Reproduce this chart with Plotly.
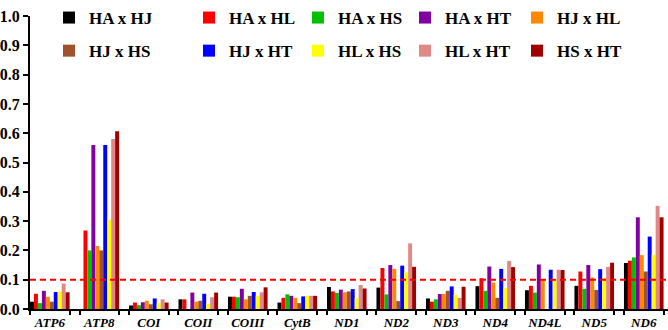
import plotly.graph_objects as go

genes = ["ATP6", "ATP8", "COI", "COII", "COIII", "CytB", "ND1", "ND2", "ND3", "ND4", "ND4L", "ND5", "ND6"]

series_names = ["HA x HJ", "HA x HL", "HA x HS", "HA x HT", "HJ x HL",
                "HJ x HS", "HJ x HT", "HL x HS", "HL x HT", "HS x HT"]

ha_hj = [0.025, 0.0, 0.012, 0.033, 0.042, 0.022, 0.075, 0.073, 0.036, 0.078, 0.064, 0.079, 0.157]
ha_hl = [0.052, 0.268, 0.022, 0.033, 0.042, 0.038, 0.060, 0.140, 0.025, 0.105, 0.079, 0.128, 0.165]
ha_hs = [0.020, 0.200, 0.013, 0.0, 0.040, 0.050, 0.055, 0.050, 0.033, 0.062, 0.056, 0.069, 0.176]
ha_ht = [0.062, 0.560, 0.023, 0.056, 0.069, 0.045, 0.066, 0.150, 0.051, 0.145, 0.152, 0.150, 0.313]
hj_hl = [0.042, 0.215, 0.028, 0.025, 0.033, 0.038, 0.057, 0.137, 0.051, 0.090, 0.099, 0.108, 0.184]
hj_hs = [0.025, 0.200, 0.016, 0.028, 0.045, 0.020, 0.060, 0.027, 0.062, 0.038, 0.0, 0.065, 0.128]
hj_ht = [0.058, 0.560, 0.036, 0.052, 0.058, 0.043, 0.068, 0.148, 0.077, 0.137, 0.134, 0.136, 0.247]
hl_hs = [0.060, 0.305, 0.020, 0.018, 0.045, 0.045, 0.037, 0.125, 0.048, 0.072, 0.099, 0.106, 0.185]
hl_ht = [0.087, 0.580, 0.033, 0.040, 0.057, 0.045, 0.082, 0.224, 0.038, 0.164, 0.134, 0.144, 0.352]
hs_ht = [0.057, 0.607, 0.022, 0.056, 0.074, 0.045, 0.070, 0.144, 0.076, 0.143, 0.133, 0.158, 0.313]

series_values = [ha_hj, ha_hl, ha_hs, ha_ht, hj_hl, hj_hs, hj_ht, hl_hs, hl_ht, hs_ht]

colors = ["#000000", "#FF0000", "#00C000", "#8000A0", "#FF8800",
          "#A0522D", "#0000FF", "#FFFF00", "#E08888", "#A00000"]

threshold = 0.1

FONT = "Liberation Serif"

fig = go.Figure()

legend_ids = ["legend", "legend2", "legend3", "legend4", "legend5"]

for i, (name, vals, col) in enumerate(zip(series_names, series_values, colors)):
    fig.add_trace(go.Bar(
        x=genes, y=vals, name=name,
        marker=dict(color=col, line=dict(width=0)),
        legend=legend_ids[i % 5],
        legendgroup=name,
    ))

# invisible trace to anchor the secondary x axis (group-edge ticks)
fig.add_trace(go.Scatter(x=[0], y=[0], xaxis="x2", mode="markers",
                         marker=dict(opacity=0), showlegend=False, hoverinfo="skip"))

xr = [-0.4, 12.49]
edge_ticks = []
for k in range(len(genes)):
    edge_ticks += [k - 0.4, k + 0.4]

fig.add_hline(y=threshold, line=dict(color="#FF0000", width=2, dash="6px,4px"))

layout_legends = {}
sym_centers = [69, 209, 318, 425, 537]
plot_left, plot_w = 30, 638
for lid, sc in zip(legend_ids, sym_centers):
    layout_legends[lid] = dict(
        x=(sc - 20 - plot_left) / plot_w, xanchor="left",
        y=1.056, yanchor="top",
        orientation="v",
        font=dict(family=FONT, size=17, color="black", weight="bold"),
        bgcolor="rgba(0,0,0,0)",
        tracegroupgap=8,
        itemsizing="constant",
    )

fig.update_layout(
    width=668, height=330,
    margin=dict(l=30, r=0, t=5, b=19),
    plot_bgcolor="white", paper_bgcolor="white",
    barmode="group", bargap=0.2, bargroupgap=0,
    showlegend=True,
    xaxis=dict(
        type="category", range=xr,
        showline=True, linecolor="black", linewidth=2,
        ticks="", showgrid=False, zeroline=False,
        tickfont=dict(family=FONT, size=13, color="black", weight="bold", style="italic"),
    ),
    xaxis2=dict(
        overlaying="x", range=xr, showline=False,
        tickmode="array", tickvals=edge_ticks,
        ticks="outside", ticklen=5, tickwidth=2, tickcolor="black",
        showticklabels=False, showgrid=False, zeroline=False, side="bottom",
        anchor="y",
    ),
    yaxis=dict(
        range=[0, 1.0], dtick=0.1, tickformat=".1f",
        showline=True, linecolor="black", linewidth=2,
        ticks="outside", ticklen=5, tickwidth=2, tickcolor="black",
        showgrid=False, zeroline=False,
        tickfont=dict(family=FONT, size=16, color="black", weight="bold"),
    ),
    **layout_legends,
)

fig.write_html("out.html", config={"displayModeBar": False},
               post_script="document.body.style.margin='0';document.body.style.overflow='hidden';")
